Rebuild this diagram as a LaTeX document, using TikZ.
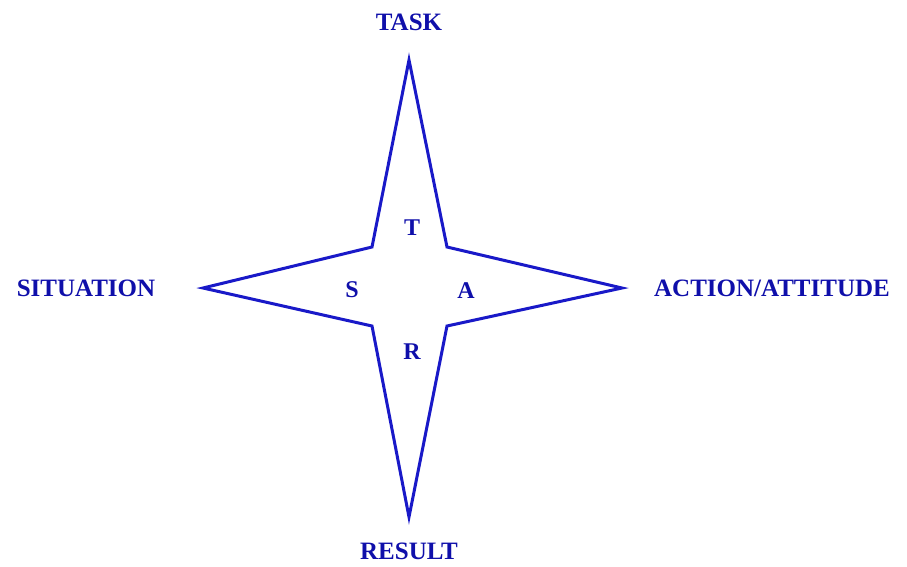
\documentclass[tikz,border=0pt]{standalone}
\usepackage{fontspec}
\setmainfont{Liberation Serif}
\definecolor{starblue}{RGB}{25,25,200}
\definecolor{textblue}{RGB}{15,15,170}
\begin{document}
\begin{tikzpicture}[x=1pt,y=-1pt,
  lbl/.style={text=textblue,font=\fontsize{25}{27}\selectfont\bfseries,inner sep=0pt},
  ltr/.style={text=textblue,font=\fontsize{24}{26}\selectfont\bfseries,inner sep=0pt},
  star/.style={draw=starblue,line width=3pt,line join=miter}]
\useasboundingbox (0,0) rectangle (907,566);
% tips and inner corners
\coordinate (top) at (409,60);
\coordinate (bot) at (409,517);
\coordinate (lft) at (203,288);
\coordinate (rgt) at (622,288);
\coordinate (tl) at (372,247);
\coordinate (tr) at (447,247);
\coordinate (br) at (447,326);
\coordinate (bl) at (372,326);
\draw[star] (top) -- (tr) -- (rgt) -- (br) -- (bot) -- (bl) -- (lft) -- (tl) -- cycle;
% outer labels
\node[lbl] (task) at (409,22) {TASK};
\node[lbl] (result) at (409,551) {RESULT};
\node[lbl] (situation) at (86,288) {SITUATION};
\node[lbl] (action) at (772,288) {ACTION/ATTITUDE};
% inner letters
\node[ltr] (t) at (412,228) {T};
\node[ltr] (s) at (352,290) {S};
\node[ltr] (a) at (466,291) {A};
\node[ltr] (r) at (412,352) {R};
\end{tikzpicture}
\end{document}
